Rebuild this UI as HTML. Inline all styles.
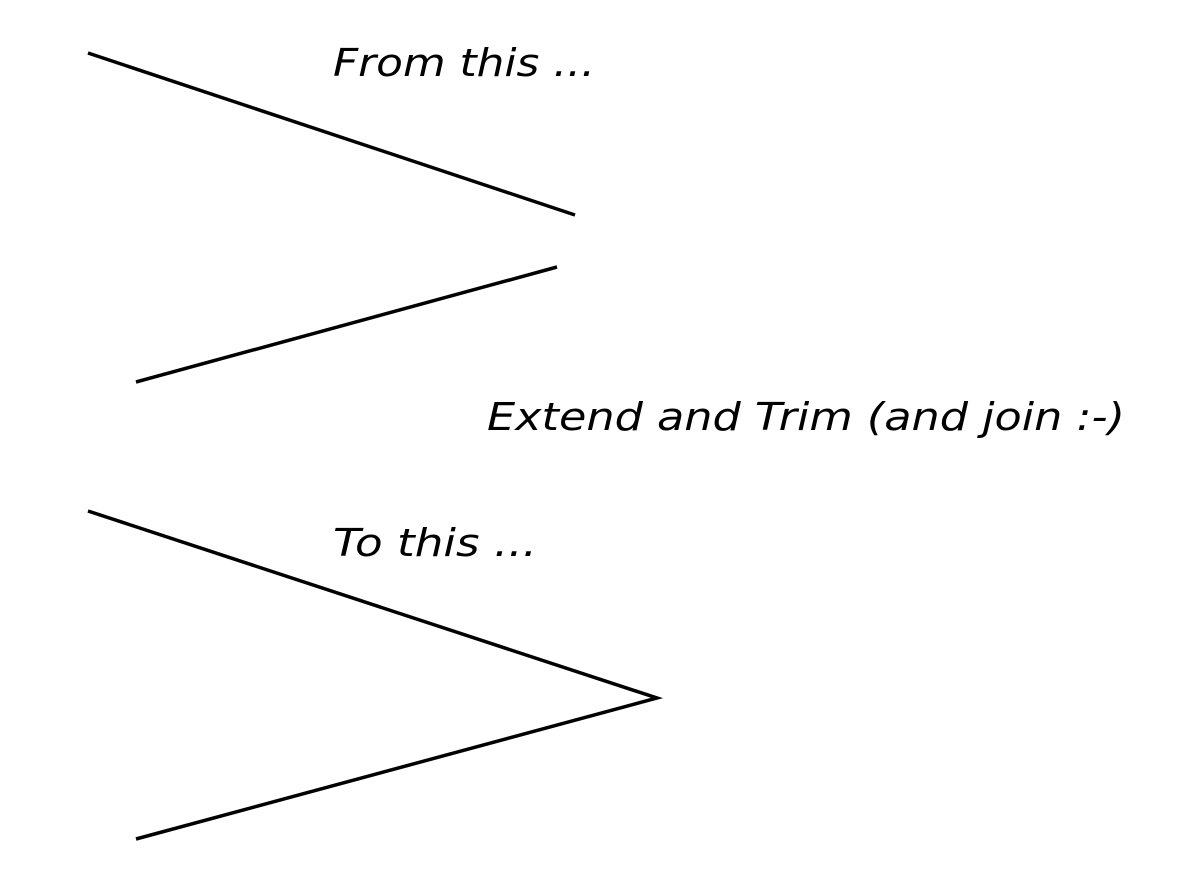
<!DOCTYPE html>
<html><head><meta charset="utf-8"><style>
html,body{margin:0;padding:0;background:#fff;}
svg{display:block;}
text{font-family:"DejaVu Sans","Liberation Sans",sans-serif;font-style:italic;font-size:38px;fill:#000;}
</style></head><body>
<svg width="1186" height="894" viewBox="0 0 1186 894" xmlns="http://www.w3.org/2000/svg">
<g stroke="#000" stroke-width="3.5" fill="none" stroke-linecap="butt">
<line x1="88" y1="53" x2="575" y2="215"/>
<line x1="136" y1="382" x2="557" y2="267"/>
<polyline points="88,511 657,698 136,839"/>
</g>
<text x="333" y="76" textLength="262" lengthAdjust="spacingAndGlyphs">From this ...</text>
<text x="487" y="430" textLength="638" lengthAdjust="spacingAndGlyphs">Extend and Trim (and join :-)</text>
<text x="333" y="556" textLength="204" lengthAdjust="spacingAndGlyphs">To this ...</text>
</svg>
</body></html>
